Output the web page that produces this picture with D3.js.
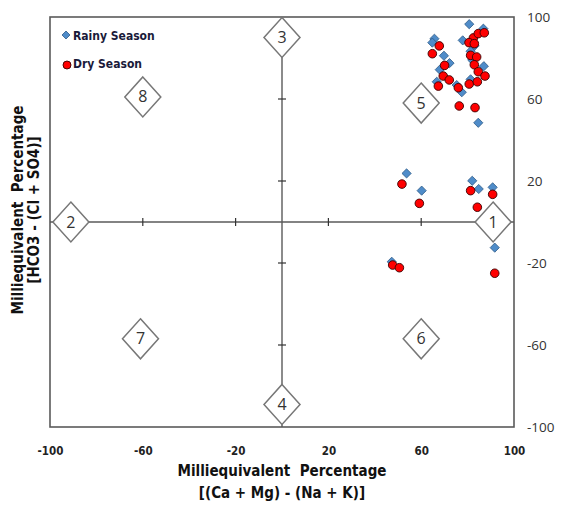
<!DOCTYPE html>
<html><head><meta charset="utf-8">
<script src="https://cdn.jsdelivr.net/npm/d3@7"></script>
<style>body{margin:0;background:#fff}svg{display:block}</style>
</head><body>
<svg id="c" width="561" height="505"></svg>
<script>
const rainyX = [80.7,65.7,64.8,77.9,86.8,69.8,81.3,72.2,87.0,68.0,66.7,75.3,77.5,81.3,84.6,83.0,82.0,53.7,60.2,82.0,84.8,90.8,91.7,47.3];
const rainyY = [96.5,89.4,87.5,88.6,94.3,81.1,83.3,77.5,76.0,74.3,68.4,66.8,63.3,69.6,48.4,86.0,79.0,23.7,15.3,20.1,16.1,16.9,-12.5,-19.4];
const dryX = [67.8,64.8,82.5,80.6,82.9,84.6,87.2,81.3,83.9,70.1,82.9,84.6,87.5,69.5,72.1,67.4,76.0,80.7,84.2,76.4,83.2,51.7,59.2,81.3,84.2,90.8,47.7,50.6,91.7];
const dryY = [85.9,82.1,89.8,87.5,87.0,91.9,92.3,81.3,80.5,76.4,76.7,73.3,71.2,71.2,69.3,66.3,65.5,67.3,68.4,56.6,55.8,18.5,9.1,15.3,7.2,13.5,-21.0,-22.3,-25.0];
const xTicks = [-100,-60,-20,20,60,100];
const yTicks = [100,60,20,-20,-60,-100];
const innerTicks = [-60,-20,20,60];
const fieldIds = ["1","2","3","4","5","6","7","8"];
const fieldX = [91,-91,0,0,60,60,-61,-60];
const fieldY = [0,0,90,-89,58,-57,-57,61];
const seriesNames = ["Rainy Season","Dry Season"];

const svg = d3.select("#c");
const L=50,R=514,T=17,B=427;
const x = d3.scaleLinear().domain([-100,100]).range([L,R]);
const y = d3.scaleLinear().domain([-100,100]).range([B,T]);
const axisCol="#5a5a5a";
const fmt = d=>String(d);

// frame
svg.append("rect").attr("x",L).attr("y",T).attr("width",R-L).attr("height",B-T)
  .attr("fill","none").attr("stroke",axisCol).attr("stroke-width",1.6);

// center axes
svg.append("line").attr("x1",L).attr("x2",R).attr("y1",y(0)).attr("y2",y(0)).attr("stroke",axisCol).attr("stroke-width",1.4);
svg.append("line").attr("x1",x(0)).attr("x2",x(0)).attr("y1",T).attr("y2",B).attr("stroke",axisCol).attr("stroke-width",1.4);
innerTicks.forEach(v=>{
  svg.append("line").attr("x1",x(v)).attr("x2",x(v)).attr("y1",y(0)-4).attr("y2",y(0)+4).attr("stroke","#333").attr("stroke-width",1.2);
  svg.append("line").attr("y1",y(v)).attr("y2",y(v)).attr("x1",x(0)-4).attr("x2",x(0)+4).attr("stroke","#333").attr("stroke-width",1.2);
});

// x tick labels
const xa = svg.append("g").attr("transform",`translate(0,${B+25})`)
  .call(d3.axisBottom(x).tickValues(xTicks).tickSize(0).tickFormat(fmt));
xa.select(".domain").remove();
xa.selectAll("text").attr("font-family","DejaVu Sans Condensed, DejaVu Sans").attr("font-weight","bold").attr("font-size",11.5).attr("fill","#222").attr("dy","0");

// y tick labels (right)
const ya = svg.append("g").attr("transform",`translate(${R+13},0)`)
  .call(d3.axisRight(y).tickValues(yTicks).tickSize(0).tickFormat(fmt));
ya.select(".domain").remove();
ya.selectAll("text").attr("x",0).attr("font-family","Open Sans, Liberation Sans").attr("font-size",13.5).attr("fill","#333").attr("text-anchor","start");

// field diamonds
const dw=18, dh=20;
fieldIds.forEach((id,i)=>{
  const cx=x(fieldX[i]), cy=y(fieldY[i]);
  svg.append("path").attr("d",`M${cx},${cy-dh}L${cx+dw},${cy}L${cx},${cy+dh}L${cx-dw},${cy}Z`)
    .attr("fill","#fff").attr("stroke","#777").attr("stroke-width",1.5);
  svg.append("text").attr("x",cx).attr("y",cy+5.5).attr("text-anchor","middle")
    .attr("font-family","Open Sans, DejaVu Sans").attr("font-size",16).attr("fill","#333").text(id);
});

// data
const dmd = s=>`M0,${-s}L${s},0L0,${s}L${-s},0Z`;
svg.append("g").selectAll("path").data(d3.range(rainyX.length)).join("path")
  .attr("d",dmd(4.6)).attr("transform",i=>`translate(${x(rainyX[i])},${y(rainyY[i])})`)
  .attr("fill","#4f8cc9").attr("stroke","#2d5a86").attr("stroke-width",0.8);
svg.append("g").selectAll("circle").data(d3.range(dryX.length)).join("circle")
  .attr("cx",i=>x(dryX[i])).attr("cy",i=>y(dryY[i])).attr("r",4.3)
  .attr("fill","#ff0000").attr("stroke","#3a0000").attr("stroke-width",0.9);

// legend
const lg = svg.append("g");
lg.append("path").attr("d",dmd(4)).attr("transform","translate(66,35)")
  .attr("fill","#4f8cc9").attr("stroke","#2d5a86").attr("stroke-width",0.8);
lg.append("circle").attr("cx",67).attr("cy",65).attr("r",4).attr("fill","#ff0000").attr("stroke","#3a0000").attr("stroke-width",0.9);
lg.append("text").attr("x",73).attr("y",40).text(seriesNames[0]);
lg.append("text").attr("x",73).attr("y",68).text(seriesNames[1]);
lg.selectAll("text").attr("font-family","DejaVu Sans Condensed, DejaVu Sans").attr("font-weight","bold").attr("font-size",12).attr("fill","#1a1a3a");

// axis titles
const tf="DejaVu Sans Condensed, DejaVu Sans";
svg.append("text").attr("x",282).attr("y",476).attr("text-anchor","middle").attr("font-family",tf).attr("font-weight","bold").attr("font-size",15).attr("fill","#111").attr("xml:space","preserve").text("Milliequivalent  Percentage");
svg.append("text").attr("x",282).attr("y",498).attr("text-anchor","middle").attr("font-family",tf).attr("font-weight","bold").attr("font-size",15).attr("fill","#111").text("[(Ca + Mg) - (Na + K)]");
svg.append("text").attr("transform","translate(23,210) rotate(-90)").attr("text-anchor","middle").attr("font-family",tf).attr("font-weight","bold").attr("font-size",15).attr("fill","#111").attr("xml:space","preserve").text("Milliequivalent  Percentage");
svg.append("text").attr("transform","translate(39,210) rotate(-90)").attr("text-anchor","middle").attr("font-family",tf).attr("font-weight","bold").attr("font-size",15).attr("fill","#111").text("[HCO3 - (Cl + SO4)]");
</script>
</body></html>
